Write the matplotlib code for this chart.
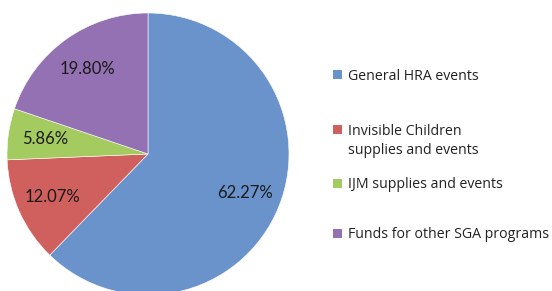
import matplotlib.pyplot as plt
from matplotlib.patches import Rectangle

labels = ['General HRA events', 'Invisible Children\nsupplies and events',
          'IJM supplies and events', 'Funds for other SGA programs']
shares = [62.27, 12.07, 5.86, 19.80]
colors = ['#6a93cc', '#d0605d', '#a4cb5f', '#9371b2']

W, H = 552, 291
fig = plt.figure(figsize=(W / 100, H / 100), dpi=100)

# pie centre ~ (148, 154) px from top-left, radius ~141 px
cx, cy, r = 148, H - 154, 141
ax = fig.add_axes([(cx - r) / W, (cy - r) / H, 2 * r / W, 2 * r / H])
wedges, texts, autotexts = ax.pie(
    shares, colors=colors, startangle=90, counterclock=False,
    autopct='%.2f%%', pctdistance=0.74, radius=1,
    wedgeprops=dict(edgecolor='white', linewidth=0.4),
    textprops=dict(fontsize=12, color='#1a1a1a', family='Lato'))
ax.set_xlim(-1, 1)
ax.set_ylim(-1, 1)
ax.set_aspect('equal')
ax.axis('off')
for w in wedges:
    w.set_clip_on(False)

# legend on the right
rows = [75, 130, 183, 233]
for lab, col, y in zip(labels, colors, rows):
    fy = (H - y) / H
    fig.patches.append(Rectangle((333 / W, fy - 4.5 / H), 9 / W, 9 / H,
                                 transform=fig.transFigure, facecolor=col,
                                 edgecolor='none'))
    fig.text(348 / W, fy + 6 / H, lab, fontsize=10.2, color='#222222',
             family='Open Sans', va='top', ha='left', linespacing=1.4)

fig.savefig('out.png', dpi=100)
